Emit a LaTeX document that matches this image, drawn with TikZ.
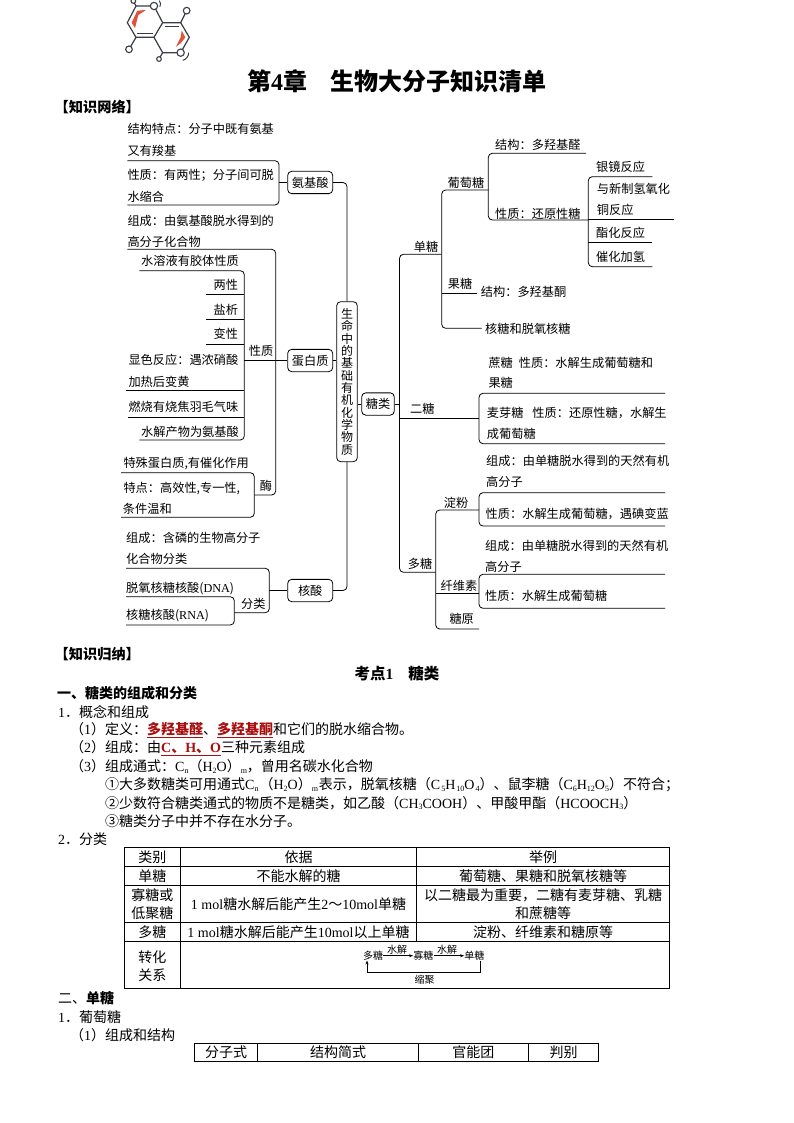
\documentclass[tikz,border=0pt]{standalone}
\usepackage{fontspec}
\setmainfont{Noto Sans CJK SC}
\newfontfamily\lafont{Liberation Serif}
\newcommand\lat[1]{{\lafont #1}}
\newcommand\sbt[1]{\raisebox{-0.25ex}{\fontsize{8}{8}\selectfont\lafont #1}}
\newcommand\rd[1]{\textcolor{DRed}{\bfseries\underline{#1}}}
\definecolor{DRed}{HTML}{A81010}
\definecolor{Ring}{HTML}{3A3C48}
\definecolor{Acc}{HTML}{E0533A}
\tikzset{
  txt/.style={anchor=west,inner sep=0pt,font=\fontsize{12.2}{14}\selectfont},
  lbl/.style={inner sep=0pt,font=\fontsize{12.2}{14}\selectfont},
  boxn/.style={draw,rounded corners=4pt,line width=0.8pt,inner sep=0pt,minimum height=22.3pt,font=\fontsize{12.2}{14}\selectfont},
  link/.style={draw,line width=0.8pt,rounded corners=4pt},
  body/.style={anchor=west,inner sep=0pt,font=\fontsize{14}{16}\selectfont},
  cell/.style={inner sep=0pt,font=\fontsize{14}{16}\selectfont,align=center},
  tiny/.style={inner sep=0pt,font=\fontsize{10}{11}\selectfont},
  grid/.style={line width=0.8pt},
  flow/.style={line width=0.6pt,-{Stealth[length=4pt,width=3pt]}}
}
\usetikzlibrary{arrows.meta}
\begin{document}
\begin{tikzpicture}[x=1pt,y=-1pt]
\useasboundingbox (0,0) rectangle (794,1123);
\fill[white] (0,0) rectangle (794,1123);
% molecule
\begin{scope}[shift={(50,0)},x=0.3333pt,y=-0.3333pt]
  \fill[Acc] (288,30) -- (262,32) -- (245,68) -- (255,84) -- (265,45) -- cycle;
  \fill[Acc] (395,92) -- (406,112) -- (392,130) -- (378,140) -- (392,112) -- cycle;
  \draw[Ring,line width=1.2pt] (258,18) -- (312,18) -- (338,68) -- (312,112) -- (258,112) -- (232,68) -- cycle;
  \draw[Ring,line width=1.2pt] (338,68) -- (392,68) -- (418,112) -- (392,158) -- (338,158) -- (312,112);
  \draw[Ring,line width=1.2pt] (262,100) -- (308,100) (345,79) -- (388,79);
  \draw[Ring,line width=1.2pt] (258,18) -- (250,3) (392,68) -- (410,32) (258,112) -- (237,148) (338,158) -- (327,177);
  \foreach \cx/\cy/\cr in {312/18/11,410/32/10,392/158/11,327/177/7,237/148/10,250/3/7}
    \draw[Ring,line width=1.1pt,fill=white] (\cx,\cy) circle[radius=\cr];
  \draw[Ring,line width=1pt] (328,2) arc[start angle=-40,end angle=30,radius=16];
  \draw[Ring,line width=1pt] (416,158) arc[start angle=0,end angle=75,radius=24];
\end{scope}
% title
\node[inner sep=0pt,font=\fontsize{24}{28}\selectfont\bfseries] (title) at (397,81) {第{\lafont 4}章\hspace{24pt}生物大分子知识清单};
\node[body,font=\fontsize{14.2}{16}\selectfont\bfseries] (h1) at (54.5,106.7) {【知识网络】};
% --- central nodes
\node[boxn,minimum width=45pt] (aa) at (310.2,182.5) {氨基酸};
\node[boxn,minimum width=45pt] (prot) at (310.2,360.5) {蛋白质};
\node[boxn,minimum width=45pt] (nuc) at (310.2,590.5) {核酸};
\node[boxn,minimum width=32.6pt] (sug) at (378,404) {糖类};
\node[draw,rounded corners=4pt,line width=0.8pt,inner sep=0pt,minimum width=20.6pt,minimum height=160pt,align=center,font=\fontsize{12}{12.35}\selectfont] (main) at (347,381.7) {生\\命\\中\\的\\基\\础\\有\\机\\化\\学\\物\\质};
\draw[link] (aa.east) -| (main.north);
\draw[link] (nuc.east) -| (main.south);
\draw[link] (prot.east) -- (prot.east-|main.west);
\draw[link] (sug.west) -- (sug.west-|main.east);
% --- amino acid
\node[txt] (a1) at (127.3,129.3) {结构特点：分子中既有氨基};
\node[txt] (a2) at (127.3,150.7) {又有羧基};
\node[txt] (a3) at (127.3,175) {性质：有两性；分子间可脱};
\node[txt] (a4) at (127.3,196.7) {水缩合};
\node[txt] (a5) at (127.3,220.7) {组成：由氨基酸脱水得到的};
\node[txt] (a6) at (127.3,242.3) {高分子化合物};
\coordinate (ab1) at (127.3,160.7);
\coordinate (ab2) at (127.3,205);
\coordinate (abx) at (279,182.5);
\draw[link] (ab1) -| (abx) |- (ab2);
\draw[link] (abx) -- (aa.west);
% --- protein
\coordinate (pt) at (127.3,249.3);
\coordinate (pjx) at (275.7,360.5);
\coordinate (pq) at (254.3,495);
\draw[link] (pt) -| (pjx) |- (pq);
\draw[link] (pjx) -- (prot.west);
\coordinate (qx) at (244.3,360.5);
\coordinate (qt) at (139.3,270.7);
\coordinate (qb) at (139.3,440);
\draw[link] (qt) -| (qx) |- (qb);
\draw[link] (qx) -- (pjx);
\coordinate (q1) at (206,294.7);
\coordinate (q2) at (206,319.3);
\coordinate (q3) at (206,344);
\coordinate (q4) at (126,390.7);
\coordinate (q5) at (128.3,417.3);
\foreach \q in {q1,q2,q3,q4,q5} \draw[line width=0.8pt] (\q) -- (\q-|qx);
\node[lbl] (p0) at (261,351) {性质};
\node[txt] (p1) at (141,260.7) {水溶液有胶体性质};
\node[txt,anchor=east] (p2) at (238.3,285) {两性};
\node[txt,anchor=east] (p3) at (238.3,310) {盐析};
\node[txt,anchor=east] (p4) at (238.3,334) {变性};
\node[txt] (p5) at (128.3,360) {显色反应：遇浓硝酸};
\node[txt] (p6) at (128.3,381.7) {加热后变黄};
\node[txt] (p7) at (128.3,407.3) {燃烧有烧焦羽毛气味};
\node[txt] (p8) at (141,431.7) {水解产物为氨基酸};
% enzyme
\coordinate (et) at (121,472.7);
\coordinate (eb) at (121,517.3);
\coordinate (ex) at (254.3,495);
\draw[link] (et) -| (ex) |- (eb);
\node[lbl] (e0) at (266,485.7) {酶};
\node[txt] (e1) at (123.3,464) {特殊蛋白质,有催化作用};
\node[txt] (e2) at (123.3,488.3) {特点：高效性,专一性,};
\node[txt] (e3) at (122.7,509.3) {条件温和};
% --- nucleic acid
\coordinate (nt) at (126,568.3);
\coordinate (nx) at (269.3,590.5);
\coordinate (ny) at (234.3,612.7);
\draw[link] (nt) -| (nx) |- (ny);
\draw[link] (nx) -- (nuc.west);
\coordinate (mt) at (126,596.7);
\coordinate (mb) at (126,625);
\coordinate (mx) at (234.3,612.7);
\draw[link] (mt) -| (mx) |- (mb);
\node[txt] (n1) at (126,537.7) {组成：含磷的生物高分子};
\node[txt] (n2) at (126,559) {化合物分类};
\node[txt] (n3) at (126,588.3) {脱氧核糖核酸(\lat{DNA})};
\node[txt] (n4) at (126,616) {核糖核酸(\lat{RNA})};
\node[lbl] (n0) at (253.3,604.3) {分类};
% --- sugars trunk
\coordinate (tx) at (399.5,404);
\coordinate (t1) at (441.7,254.3);
\coordinate (t3) at (435.7,572.3);
\draw[link] (t1) -| (tx) |- (t3);
\draw[link] (sug.east) -- (tx);
% monosaccharide
\coordinate (mx1) at (441.7,254.3);
\coordinate (mg) at (488.3,190);
\coordinate (mr) at (481.7,328.3);
\draw[link] (mg) -| (mx1) |- (mr);
\coordinate (gx) at (488.3,190);
\coordinate (g1) at (586,153.3);
\coordinate (g2) at (588.3,220);
\draw[link] (g1) -| (gx) |- (g2);
\coordinate (rx) at (588.3,220);
\coordinate (r1) at (652.3,176.7);
\coordinate (r2) at (652.3,266.7);
\draw[link] (r1) -| (rx) |- (r2);
\coordinate (r3) at (674.3,219.3);
\coordinate (r4) at (652.3,242.3);
\draw[line width=0.8pt] (r3-|rx) -- (r3);
\draw[line width=0.8pt] (r4-|rx) -- (r4);
\coordinate (fr) at (476.7,293.3);
\draw[line width=0.8pt] (fr-|mx1) -- (fr);
\node[lbl] (s1) at (426,246.7) {单糖};
\node[lbl] (s2) at (466,183) {葡萄糖};
\node[txt] (s3) at (495,145) {结构：多羟基醛};
\node[txt] (s4) at (495,214.3) {性质：还原性糖};
\node[txt] (s5) at (596,167.3) {银镜反应};
\node[txt] (s6) at (596.7,189) {与新制氢氧化};
\node[txt] (s7) at (596.7,210) {铜反应};
\node[txt] (s8) at (596,233.3) {酯化反应};
\node[txt] (s9) at (596,257.3) {催化加氢};
\node[lbl] (s10) at (460,284.3) {果糖};
\node[txt] (s11) at (480.7,291.7) {结构：多羟基酮};
\node[txt] (s12) at (485,329) {核糖和脱氧核糖};
% disaccharide
\coordinate (dj) at (479,418.3);
\coordinate (d1) at (665,393.3);
\coordinate (d2) at (665,443.7);
\draw[link] (d1) -| (dj) |- (d2);
\draw[line width=0.8pt] (dj-|tx) -- (dj);
\node[lbl] (d0) at (422.3,409.3) {二糖};
\node[txt] (d3) at (488.3,362.7) {蔗糖\hspace{6pt}性质：水解生成葡萄糖和};
\node[txt] (d4) at (488.3,383.3) {果糖};
\node[txt] (d5) at (486.7,412.7) {麦芽糖\hspace{9pt}性质：还原性糖，水解生};
\node[txt] (d6) at (486.7,434) {成葡萄糖};
% polysaccharide
\coordinate (yx) at (435.7,572.3);
\coordinate (y1) at (479,510);
\coordinate (y3) at (479,629);
\coordinate (y2) at (479,593.3);
\draw[link] (y1) -| (yx) |- (y3);
\draw[line width=0.8pt] (y2-|yx) -- (y2);
\coordinate (st) at (665,492.7);
\coordinate (sb) at (665,526);
\coordinate (sx) at (479,510);
\draw[link] (st) -| (sx) |- (sb);
\coordinate (ct) at (665,574.3);
\coordinate (cb) at (665,608.3);
\coordinate (cx) at (479,593.3);
\draw[link] (ct) -| (cx) |- (cb);
\node[lbl] (y0) at (420,564) {多糖};
\node[lbl] (y4) at (456,502.7) {淀粉};
\node[lbl] (y5) at (459,585.7) {纤维素};
\node[lbl] (y6) at (461.7,619.3) {糖原};
\node[txt] (y7) at (486,461) {组成：由单糖脱水得到的天然有机};
\node[txt] (y8) at (486,482.3) {高分子};
\node[txt] (y9) at (485.5,514) {性质：水解生成葡萄糖，遇碘变蓝};
\node[txt] (y10) at (485,545.7) {组成：由单糖脱水得到的天然有机};
\node[txt] (y11) at (485,566.7) {高分子};
\node[txt] (y12) at (485,596) {性质：水解生成葡萄糖};
% --- lower text
\node[body,font=\fontsize{14.2}{16}\selectfont\bfseries] (h2) at (54.5,654) {【知识归纳】};
\node[inner sep=0pt,font=\fontsize{15.5}{18}\selectfont\bfseries] (h3) at (397,674) {考点\lat{1}\hspace{15pt}糖类};
\node[body,font=\fontsize{14}{16}\selectfont\bfseries] (h4) at (57,693) {一、糖类的组成和分类};
\node[body] (l1) at (58,711.7) {\lat{1}．概念和组成};
\node[body] (l2) at (70,730) {（\lat{1}）定义：\rd{多羟基醛}、\rd{多羟基酮}和它们的脱水缩合物。};
\node[body] (l3) at (70,748.3) {（\lat{2}）组成：由\rd{\lat{C}、\lat{H}、\lat{O}}三种元素组成};
\node[body] (l4) at (70,766.7) {（\lat{3}）组成通式：\lat{C}\sbt{n}（\lat{H}\sbt{2}\lat{O}）\sbt{m}，曾用名碳水化合物};
\node[body] (l5) at (105,785) {①大多数糖类可用通式\lat{C}\sbt{n}\hspace{1pt}（\lat{H}\sbt{2}\lat{O}）\sbt{m}\hspace{1pt}表示，脱氧核糖（\lat{C}\hspace{1pt}\sbt{5}\lat{H}\hspace{1pt}\sbt{10}\lat{O}\hspace{1pt}\sbt{4}）、鼠李糖（\lat{C}\sbt{6}\lat{H}\sbt{12}\lat{O}\sbt{5}）不符合；};
\node[body] (l6) at (105,803) {②少数符合糖类通式的物质不是糖类，如乙酸（\lat{CH}\sbt{3}\lat{COOH}）、甲酸甲酯（\lat{HCOOCH}\sbt{3}）};
\node[body] (l7) at (105,821) {③糖类分子中并不存在水分子。};
\node[body] (l8) at (58,839.5) {\lat{2}．分类};
% table 1
\draw[grid] (124,847.3) rectangle (669.4,988.3);
\foreach \yy in {866.7,885.7,922.7,941.7} \draw[grid] (124,\yy) -- (669.4,\yy);
\draw[grid] (180.6,847.3) -- (180.6,988.3);
\draw[grid] (416.4,847.3) -- (416.4,941.7);
\node[cell] (c1) at (152.3,857) {类别};
\node[cell] (c2) at (298.5,857) {依据};
\node[cell] (c3) at (543,857) {举例};
\node[cell] (c4) at (152.3,876) {单糖};
\node[cell] (c5) at (298.5,876) {不能水解的糖};
\node[cell] (c6) at (543,876) {葡萄糖、果糖和脱氧核糖等};
\node[cell,font=\fontsize{14}{18}\selectfont] (c7) at (152.3,904) {寡糖或\\低聚糖};
\node[cell] (c8) at (298.5,904) {\lat{1 mol}糖水解后能产生\lat{2}～\lat{10mol}单糖};
\node[cell,font=\fontsize{14}{18}\selectfont] (c9) at (543,904) {以二糖最为重要，二糖有麦芽糖、乳糖\\和蔗糖等};
\node[cell] (c10) at (152.3,932) {多糖};
\node[cell] (c11) at (298.5,932) {\lat{1 mol}糖水解后能产生\lat{10mol}以上单糖};
\node[cell] (c12) at (543,932) {淀粉、纤维素和糖原等};
\node[cell,font=\fontsize{14}{18}\selectfont] (c13) at (152.3,966) {转化\\关系};
% conversion
\node[tiny] (f1) at (373,955.7) {多糖};
\node[tiny] (f2) at (423.3,955.7) {寡糖};
\node[tiny] (f3) at (474.3,955.7) {单糖};
\node[tiny] (f4) at (397,950) {水解};
\node[tiny] (f5) at (447,950) {水解};
\node[tiny] (f6) at (424.5,980) {缩聚};
\draw[flow] (f1.east) -- (f2.west);
\draw[flow] (f2.east) -- (f3.west);
\coordinate (fb) at (424,972.3);
\draw[line width=0.6pt] ([xshift=6pt]f3.south) |- (fb);
\draw[flow] (fb) -| ([xshift=-6pt]f1.south);
% lower heads
\node[body] (l9) at (58,998.3) {二、{\bfseries 单糖}};
\node[body] (l10) at (58,1016.7) {\lat{1}．葡萄糖};
\node[body] (l11) at (70,1035) {（\lat{1}）组成和结构};
% table 2
\draw[grid] (194.8,1043.3) rectangle (598.8,1061.7);
\foreach \xx in {257.3,418.4,528.2} \draw[grid] (\xx,1043.3) -- (\xx,1061.7);
\node[cell] (k1) at (226,1052.5) {分子式};
\node[cell] (k2) at (338,1052.5) {结构简式};
\node[cell] (k3) at (473.3,1052.5) {官能团};
\node[cell] (k4) at (563.5,1052.5) {判别};
\end{tikzpicture}
\end{document}
